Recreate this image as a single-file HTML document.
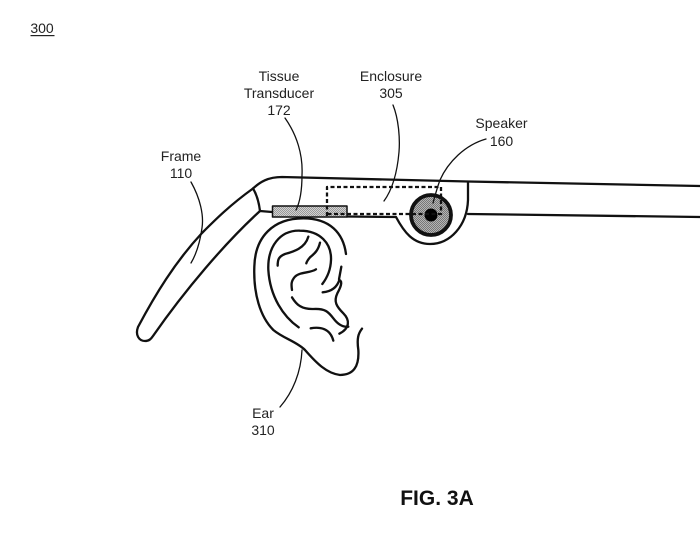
<!DOCTYPE html>
<html>
<head>
<meta charset="utf-8">
<style>
html,body{margin:0;padding:0;background:#fff}
svg{display:block}
text{font-family:"Liberation Sans",sans-serif;font-size:14px;fill:#222;text-anchor:middle}
</style>
</head>
<body>
<svg width="700" height="556" viewBox="0 0 700 556" xmlns="http://www.w3.org/2000/svg">
<defs>
  <pattern id="d1" width="2" height="2" patternUnits="userSpaceOnUse">
    <rect width="2" height="2" fill="#d2d2d2"/>
    <rect width="1" height="1" fill="#999"/>
    <rect x="1" y="1" width="1" height="1" fill="#999"/>
  </pattern>
  <pattern id="d2" width="2" height="2" patternUnits="userSpaceOnUse">
    <rect width="2" height="2" fill="#b4b4b4"/>
    <rect width="1" height="1" fill="#777"/>
    <rect x="1" y="1" width="1" height="1" fill="#777"/>
  </pattern>
</defs>
<rect width="700" height="556" fill="#fff"/>
<g fill="none" stroke="#111" stroke-linecap="round" stroke-linejoin="round">
  <!-- frame -->
  <path stroke-width="2.300" d="M700,186 L468,181.5 L282,177 C268,177 260,182 253,188.5 C230,205 215,220 202,233 C175,262 155,295 138,327 C135,335 139,341 145,341 C149,341 151,339 153,336 C185,290 225,243 260,211 L272,212"/>
  <path stroke-width="2.300" d="M253,188.5 C257,195 259,203 260,211"/>
  <path stroke-width="2.300" d="M468,182 L468,200 C467,226 450,244 430,244 C413,244 404,232 396,217 L347,216.5"/>
  <path stroke-width="2.300" d="M468,214 L700,217"/>
  <!-- speaker -->
  <circle cx="431" cy="215" r="20" fill="url(#d2)" stroke-width="3.800"/>
  <circle cx="431" cy="215" r="6.500" fill="#000" stroke="none"/>
  <!-- transducer -->
  <rect x="272.500" y="206" width="74.500" height="11" fill="url(#d1)" stroke-width="1.500"/>
  <!-- enclosure dashed -->
  <path stroke-width="2.300" stroke-dasharray="4 2.500" stroke-linecap="butt" d="M327,216 L327,187 L441,187 L441,214 L327,214"/>
  <!-- ear -->
  <g transform="translate(240,210) scale(0.33333)" stroke-width="7">
    <path d="M318,132 C310,70 270,25 190,25 C100,25 45,80 43,170 C40,250 60,320 100,360 C130,385 170,395 195,420 C230,460 260,490 300,495 C340,495 358,470 355,420 C350,385 355,370 366,356"/>
    <path d="M176,352 C130,320 90,260 85,180 C82,110 120,60 180,62 C240,62 275,100 273,150 C272,180 260,205 247,222"/>
    <path d="M205,80 C195,115 160,125 135,132 C115,140 113,150 113,167"/>
    <path d="M240,98 C235,120 225,130 210,142 C203,150 200,155 199,160"/>
    <path d="M228,178 C210,190 180,185 165,200 C152,215 154,225 156,240"/>
    <path d="M156,262 C170,285 185,298 220,297 C255,295 265,305 280,325 C295,345 310,352 325,350"/>
    <path d="M304,170 L297,208"/>
    <path d="M248,247 C270,245 290,235 298,210 C310,215 300,235 292,250 C280,275 290,290 310,310 C330,330 330,355 298,371"/>
    <path d="M212,355 C240,350 270,355 280,392"/>
  </g>
  <!-- leaders -->
  <g stroke-width="1.300">
    <path d="M191,182 C200,198 204,215 202,228 C200,242 197,253 191,263"/>
    <path d="M285,118 C297,135 303,155 302,175 C302,190 300,202 296,210"/>
    <path d="M393,105 C399,120 400,140 399,152 C397,175 392,190 384,201"/>
    <path d="M486,139 C465,145 448,162 440,180 C437,188 435,196 433,203"/>
    <path d="M302,350 C301,372 293,392 280,407"/>
  </g>
</g>
<text x="42" y="33">300</text>
<rect x="30.500" y="35" width="24" height="1.200" fill="#222"/>
<text x="181" y="161">Frame</text>
<text x="181" y="178">110</text>
<text x="279" y="81">Tissue</text>
<text x="279" y="98">Transducer</text>
<text x="279" y="115">172</text>
<text x="391" y="81">Enclosure</text>
<text x="391" y="98">305</text>
<text x="501.500" y="128">Speaker</text>
<text x="501.500" y="146">160</text>
<text x="263" y="418">Ear</text>
<text x="263" y="435">310</text>
<text x="437" y="505" style="font-size:21px;font-weight:bold;fill:#111">FIG. 3A</text>
</svg>
</body>
</html>
